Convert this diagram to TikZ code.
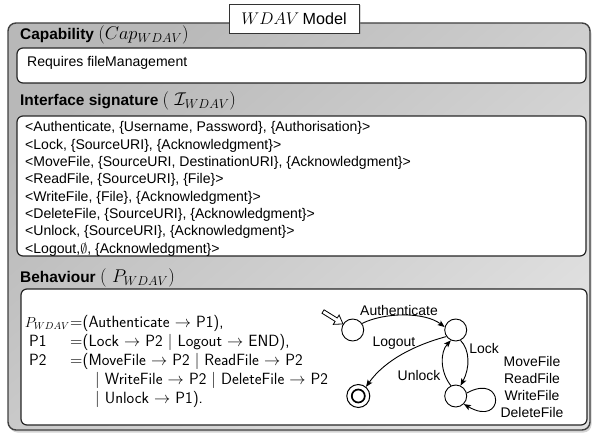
\RequirePackage{fix-cm}
\documentclass[tikz,border=0pt]{standalone}
\usepackage{fontspec}
\newfontfamily\hv{Liberation Sans}
\usetikzlibrary{shadows,arrows.meta,calc}
\begin{document}
\begin{tikzpicture}[x=1bp,y=-1bp,
  frame/.style={draw=black!75, line width=1.4bp, rounded corners=8bp,
    top color=black!28, bottom color=black!12, shading angle=40,
    drop shadow={opacity=0.35, shadow xshift=1.5bp, shadow yshift=-2.5bp}},
  inbox/.style={draw=black!85, line width=1.2bp, rounded corners=6bp, fill=white},
  titlebox/.style={draw=black!80, line width=0.8bp, fill=white, minimum width=130bp, minimum height=29bp, inner sep=0,
    drop shadow={opacity=0.3, shadow xshift=1.5bp, shadow yshift=-1.5bp}},
  hdr/.style={font=\hv\bfseries\fontsize{15.5}{18}\selectfont, inner sep=0, anchor=base west},
  body/.style={font=\hv\fontsize{14.1}{17}\selectfont, inner sep=0, anchor=base west},
  beh/.style={font=\sffamily\fontsize{16.3}{19}\selectfont, inner sep=0, anchor=base west},
  lbl/.style={font=\hv\fontsize{14}{17}\selectfont, inner sep=0},
  state/.style={circle, draw, minimum size=22bp, inner sep=0, line width=0.9bp, fill=white},
  tr/.style={line width=0.9bp, -{Stealth[length=7bp,width=5.5bp,inset=1.5bp]}}]
\useasboundingbox (0,0) rectangle (592,436);
\newcommand\hm[1]{{\normalfont\fontsize{18.5}{20}\selectfont #1}}

% outer frame
\path[frame] (8,23) rectangle (590,430);
\node[titlebox] (title) at (294,18.5) {{\fontsize{17}{19}\selectfont$WDAV$} {\hv\fontsize{16.2}{19}\selectfont Model}};

% capability
\node[hdr] (caphdr) at (20,40) {Capability \hm{$(Cap_{WDAV})$}};
\path[inbox] (17,48) rectangle (586,83);
\node[body] (cap) at (27,67) {Requires fileManagement};

% interface
\node[hdr] (ifhdr) at (20,105.5) {Interface signature \hm{( $\mathcal{I}_{WDAV}$)}};
\path[inbox] (17,116) rectangle (586,256);
\node[body] (if1) at (25,132) {<Authenticate, \{Username, Password\}, \{Authorisation\}>};
\node[body] (if2) at (25,149.3) {<Lock, \{SourceURI\}, \{Acknowledgment\}>};
\node[body] (if3) at (25,166.6) {<MoveFile, \{SourceURI, DestinationURI\}, \{Acknowledgment\}>};
\node[body] (if4) at (25,183.9) {<ReadFile, \{SourceURI\}, \{File\}>};
\node[body] (if5) at (25,201.2) {<WriteFile, \{File\}, \{Acknowledgment\}>};
\node[body] (if6) at (25,218.5) {<DeleteFile, \{SourceURI\}, \{Acknowledgment\}>};
\node[body] (if7) at (25,235.8) {<Unlock, \{SourceURI\}, \{Acknowledgment\}>};
\node[body] (if8) at (25,253.1) {<Logout,$\emptyset$, \{Acknowledgment\}>};

% behaviour
\node[hdr] (behhdr) at (20,283) {Behaviour \hm{( $P_{WDAV}$)}};
\path[inbox] (21,289) rectangle (587,425);
\node[beh, anchor=base east] (b1a) at (70,327.5) {\fontsize{14.5}{17}\selectfont$P_{WDAV}$};
\node[beh] (b1b) at (70,327.5) {$=$(Authenticate $\rightarrow$ P1),};
\node[beh] (b2a) at (29,346.5) {P1};
\node[beh] (b2b) at (70,346.5) {$=$(Lock $\rightarrow$ P2 $|$ Logout $\rightarrow$ END),};
\node[beh] (b3a) at (29,365.5) {P2};
\node[beh] (b3b) at (70,365.5) {$=$(MoveFile $\rightarrow$ P2 $|$ ReadFile $\rightarrow$ P2};
\node[beh] (b4) at (95,384.5) {$|$ WriteFile $\rightarrow$ P2 $|$ DeleteFile $\rightarrow$ P2};
\node[beh] (b5) at (95,403.5) {$|$ Unlock $\rightarrow$ P1).};

% state machine
\node[state] (s0) at (352.7,330) {};
\node[state] (s1) at (455.7,330) {};
\node[state] (s2) at (455.7,396) {};
\node[state, minimum size=23bp, line width=1bp] (e) at (358.3,396) {};
\node[circle, draw, line width=1.7bp, minimum size=13bp, inner sep=0] (ein) at (e) {};
\coordinate (init) at (323,311.5);
\coordinate (itip) at (s0.148);
\coordinate (ihb) at ($(itip)!8bp!(init)$);
\filldraw[fill=white, draw=black, line width=0.8bp, line join=miter]
  ($(init)!2bp!90:(itip)$) -- ($(ihb)!2bp!90:(itip)$) -- ($(ihb)!5.5bp!90:(itip)$) -- (itip)
  -- ($(ihb)!5.5bp!-90:(itip)$) -- ($(ihb)!2bp!-90:(itip)$) -- ($(init)!2bp!-90:(itip)$) -- cycle;

\draw[tr] (s0.35) .. controls (385,312) and (425,312) .. (s1.165);
\draw[tr] (s1.215) .. controls (415,345) and (385,360) .. (e.50);
\draw[tr] (s1.295) .. controls (470,350) and (470,368) .. (s2.65);
\draw[tr] (s2.115) .. controls (440,372) and (440,352) .. (s1.245);
\draw[tr] (s2.15) .. controls (505,372) and (505,428) .. (s2.-45);

\node[lbl] (lauth) at (399,311) {Authenticate};
\node[lbl] (llog) at (394,343) {Logout};
\node[lbl] (llock) at (484,349) {Lock};
\node[lbl] (lunl) at (419,376) {Unlock};
\node[lbl, align=center, font=\hv\fontsize{14}{17}\selectfont] (lloop) at (532,387) {MoveFile\\ReadFile\\WriteFile\\DeleteFile};
\end{tikzpicture}
\end{document}
